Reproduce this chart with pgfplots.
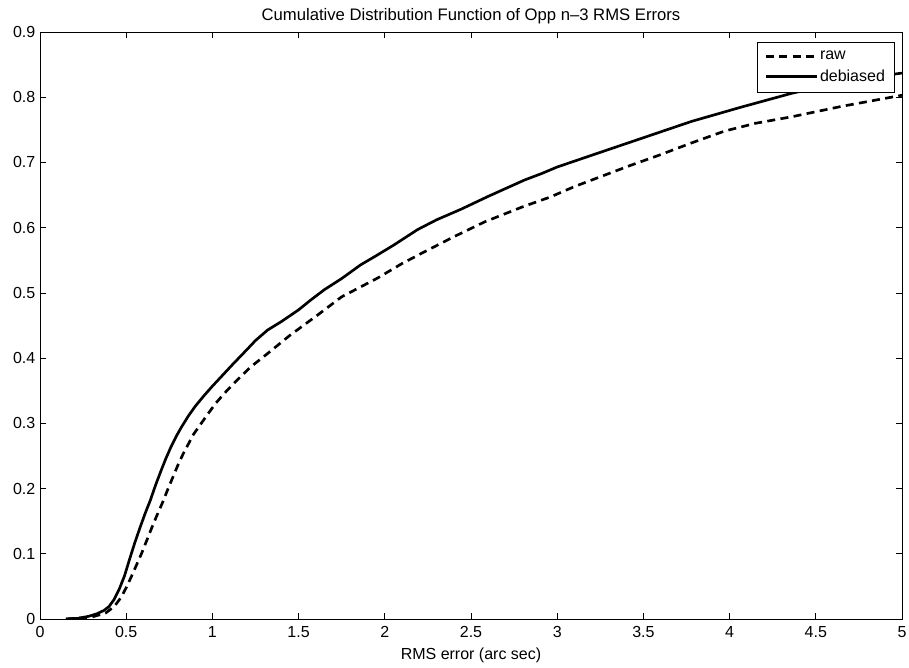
\documentclass[border=0pt]{standalone}
\usepackage{fontspec}
\setmainfont{Liberation Sans}
\usepackage{pgfplots}
\pgfplotsset{compat=1.18}

\begin{document}
\begin{tikzpicture}
\begin{axis}[
  at={(0,0)}, anchor=south west,
  scale only axis,
  width=646.5pt, height=440.25pt,
  xmin=0, xmax=5, ymin=0, ymax=0.9,
  xtick={0,0.5,...,5}, ytick={0,0.1,...,0.9},
  yticklabel style={/pgf/number format/fixed, /pgf/number format/precision=1},
  /pgf/number format/assume math mode=true,
  tick align=inside,
  major tick length=4.5pt,
  tick style={black, line width=0.5pt},
  axis line style={line width=0.6pt},
  ticklabel style={font=\fontsize{12}{14}\selectfont},
  xticklabel style={yshift=-2pt},
  every axis title shift=0pt,
  title={Cumulative Distribution Function of Opp n\textendash3 RMS Errors},
  title style={font=\fontsize{12.5}{14}\selectfont, at={(0.5,1)}, anchor=base, yshift=8.8pt},
  xlabel={RMS error (arc sec)},
  xlabel style={font=\fontsize{12}{14}\selectfont, at={(0.5,0)}, anchor=base, yshift=-30.5pt},
  legend style={at={(0.9915,0.983)}, anchor=north east, draw=black, line width=0.6pt,
    font=\fontsize{12}{14}\selectfont, inner xsep=5.5pt, inner ysep=5pt,
    row sep=3pt, nodes={inner sep=1.5pt}},
  legend cell align=left,
  legend image code/.code={\draw[#1] (0pt,0pt) -- (38pt,0pt);},
]
% raw errors
\addplot[black, line width=2pt, dash pattern=on 6pt off 4pt] coordinates {
(0.15,0.000) (0.30,0.003) (0.38,0.009) (0.43,0.019) (0.47,0.033)
(0.50,0.048) (0.53,0.065) (0.56,0.083) (0.59,0.101) (0.62,0.121)
(0.65,0.141) (0.68,0.160) (0.71,0.178) (0.74,0.198) (0.77,0.217)
(0.80,0.236) (0.83,0.253) (0.86,0.268) (0.89,0.283) (0.93,0.298)
(0.97,0.313) (1.02,0.331) (1.08,0.349) (1.15,0.368) (1.22,0.386)
(1.32,0.407) (1.45,0.435) (1.61,0.466) (1.75,0.494) (1.96,0.523)
(2.10,0.545) (2.23,0.563) (2.40,0.586) (2.58,0.609) (2.80,0.632)
(2.96,0.647) (3.10,0.663) (3.26,0.679) (3.42,0.695) (3.59,0.711)
(3.78,0.730) (3.97,0.748) (4.15,0.760) (4.36,0.770) (4.65,0.786)
(5.00,0.803)
};
\addlegendentry{raw}
% debiased errors
\addplot[black, line width=2pt] coordinates {
(0.15,0.000) (0.22,0.001) (0.28,0.004) (0.33,0.008) (0.37,0.013)
(0.40,0.019) (0.43,0.030) (0.46,0.046) (0.49,0.066) (0.52,0.092)
(0.55,0.117) (0.58,0.140) (0.61,0.162) (0.64,0.182) (0.67,0.205)
(0.70,0.226) (0.73,0.246) (0.76,0.264) (0.79,0.280) (0.82,0.294)
(0.86,0.311) (0.90,0.326) (0.95,0.342) (1.00,0.357) (1.06,0.374)
(1.12,0.391) (1.20,0.413) (1.25,0.427) (1.32,0.443) (1.40,0.456)
(1.50,0.474) (1.57,0.489) (1.65,0.505) (1.75,0.522) (1.86,0.543)
(1.95,0.557) (2.05,0.573) (2.19,0.597) (2.30,0.612) (2.44,0.628)
(2.60,0.648) (2.81,0.673) (2.91,0.683) (3.00,0.693) (3.20,0.711)
(3.49,0.737) (3.78,0.763) (4.07,0.785) (4.36,0.806) (4.60,0.820)
(4.80,0.830) (5.00,0.837)
};
\addlegendentry{debiased}
\end{axis}
\pgfresetboundingbox
\path[use as bounding box] (-30pt,-36pt) rectangle (651.75pt,464.25pt);
\end{tikzpicture}
\end{document}
